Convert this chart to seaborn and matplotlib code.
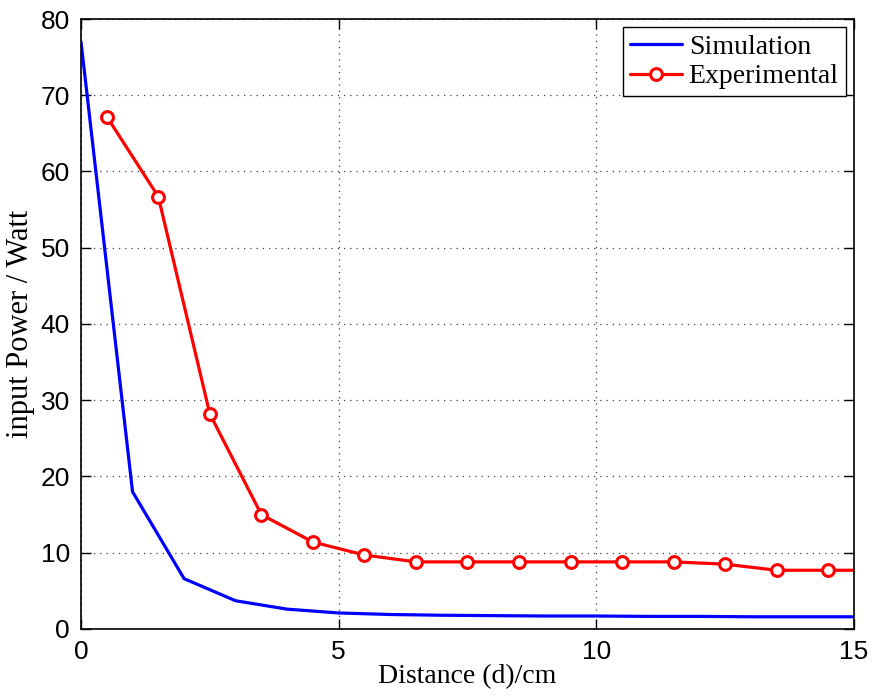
import numpy as np
import pandas as pd
import matplotlib
matplotlib.use("Agg")
import matplotlib.pyplot as plt
import seaborn as sns

# --- data ---
sim_distance = [0, 1, 2, 3, 4, 5, 6, 7, 8, 9, 10, 11, 12, 13, 14, 15]
sim_power = [77.0, 18.0, 6.6, 3.7, 2.6, 2.1, 1.9, 1.8, 1.75, 1.7, 1.7, 1.65, 1.65, 1.6, 1.6, 1.6]

exp_distance = [0.5, 1.5, 2.5, 3.5, 4.5, 5.5, 6.5, 7.5, 8.5, 9.5, 10.5, 11.5, 12.5, 13.5, 14.5, 15.5]
exp_power = [67.2, 56.7, 28.2, 15.0, 11.4, 9.7, 8.8, 8.8, 8.8, 8.8, 8.8, 8.8, 8.5, 7.7, 7.7, 7.7]

sim_df = pd.DataFrame({"distance": sim_distance, "power": sim_power})
exp_df = pd.DataFrame({"distance": exp_distance, "power": exp_power})

sns.set_style("ticks")
plt.rcParams["font.family"] = ["Liberation Sans", "DejaVu Sans"]

fig = plt.figure(figsize=(8.73, 6.96), dpi=100)
ax = fig.add_axes([0.0928, 0.0963, 0.8854, 0.8764])

sns.lineplot(data=sim_df, x="distance", y="power", ax=ax, color="#0000ff",
             linewidth=2.3, label="Simulation")
sns.lineplot(data=exp_df, x="distance", y="power", ax=ax, color="#ff0000",
             linewidth=2.3, marker="o", markersize=8.5, markerfacecolor="white",
             markeredgecolor="#ff0000", markeredgewidth=2.2, label="Experimental")

ax.set_xlim(0, 15)
ax.set_ylim(0, 80)
ax.set_xticks([0, 5, 10, 15])
ax.set_yticks(np.arange(0, 81, 10))

ax.grid(True, linestyle=(0, (1, 4)), color="#404040", linewidth=0.9)
for s in ax.spines.values():
    s.set_visible(True)
    s.set_color("black")
    s.set_linewidth(1.2)
ax.tick_params(direction="in", top=True, right=True, length=7, width=1,
               labelsize=19, pad=8, colors="black")

ax.set_xlabel("Distance (d)/cm", family="Liberation Serif", fontsize=20,
              labelpad=0, color="black")
ax.set_ylabel("input Power / Watt", family="Liberation Serif", fontsize=22,
              labelpad=4, color="black")

leg = ax.legend(loc="upper right", fancybox=False, framealpha=1, edgecolor="black",
                prop={"family": "Liberation Serif", "size": 20},
                borderaxespad=0.3, handlelength=1.85, handletextpad=0.25,
                borderpad=0.25, labelspacing=0.15)
leg.get_frame().set_linewidth(1.0)
for t in leg.get_texts():
    t.set_color("black")

fig.savefig("out.png", dpi=100)
